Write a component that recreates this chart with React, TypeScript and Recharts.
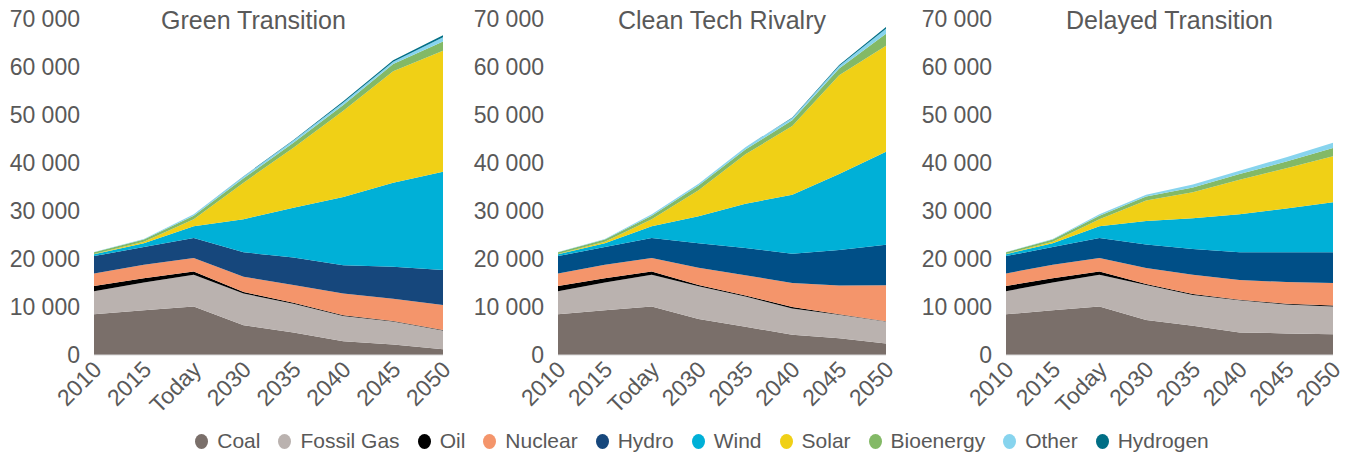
import React from 'react';
import { AreaChart, Area, XAxis, YAxis } from 'recharts';

const categories = ['2010', '2015', 'Today', '2030', '2035', '2040', '2045', '2050'];
const yTicks = [0, 10000, 20000, 30000, 40000, 50000, 60000, 70000];

const seriesNames = ['Coal', 'Fossil Gas', 'Oil', 'Nuclear', 'Hydro', 'Wind', 'Solar', 'Bioenergy', 'Other', 'Hydrogen'];
const seriesColors = ['#7a6f6a', '#bab2af', '#000000', '#f4956b', '#16477c', '#00b0d7', '#f0d016', '#83b966', '#87d4ee', '#006e85'];

// values in TWh, order follows seriesNames
const greenTransition = [
  [8500, 9300, 10100, 6200, 4700, 2850, 2200, 1200],
  [4800, 5800, 6600, 6600, 6000, 5250, 4800, 3900],
  [1100, 900, 700, 300, 200, 200, 100, 100],
  [2600, 2800, 2800, 3200, 3700, 4500, 4600, 5200],
  [3600, 3700, 4200, 5100, 5700, 5900, 6700, 7300],
  [400, 800, 2400, 6900, 10400, 14200, 17500, 20500],
  [50, 300, 1500, 7600, 12500, 18000, 23200, 25200],
  [350, 450, 700, 900, 1000, 1200, 1500, 1900],
  [50, 100, 300, 400, 500, 500, 500, 900],
  [0, 0, 0, 50, 100, 250, 300, 400],
];

const cleanTechRivalry = [
  [8500, 9300, 10100, 7500, 5900, 4200, 3500, 2400],
  [4800, 5800, 6600, 6800, 6300, 5500, 4900, 4600],
  [1100, 900, 700, 300, 200, 300, 100, 50],
  [2600, 2800, 2800, 3600, 4200, 5000, 6000, 7500],
  [3600, 3700, 4200, 5100, 5700, 6100, 7400, 8400],
  [400, 800, 2400, 5600, 9200, 12300, 15800, 19400],
  [50, 300, 1500, 5400, 10300, 14300, 20600, 22100],
  [350, 450, 700, 1000, 1000, 1200, 1400, 2500],
  [50, 100, 300, 400, 500, 500, 500, 1000],
  [0, 0, 0, 0, 0, 100, 200, 400],
];

const delayedTransition = [
  [8500, 9300, 10100, 7300, 6100, 4700, 4500, 4300],
  [4800, 5800, 6600, 7300, 6400, 6700, 6000, 5800],
  [1100, 900, 700, 200, 200, 100, 200, 200],
  [2600, 2800, 2800, 3300, 4000, 4100, 4500, 4700],
  [3600, 3700, 4200, 4900, 5400, 5800, 6200, 6400],
  [400, 800, 2400, 4900, 6400, 7900, 9100, 10400],
  [50, 300, 1500, 4300, 5400, 7200, 8400, 9600],
  [350, 450, 700, 800, 1000, 1200, 1400, 1700],
  [50, 100, 300, 400, 600, 700, 900, 1100],
  [0, 0, 0, 0, 0, 0, 0, 0],
];

const FONT = '"Liberation Sans", Arial, sans-serif';
const TEXT = '#595959';

const toRows = (values: number[][]) =>
  categories.map((c, i) => {
    const row: Record<string, string | number> = { year: c };
    seriesNames.forEach((s, k) => {
      row[s] = values[k][i];
    });
    return row;
  });

const fmt = (v: number) => String(v).replace(/\B(?=(\d{3})+(?!\d))/g, ' ');

const XTick = (props: any) => {
  const { x, y, payload } = props;
  const ax = x + 9;
  const ay = y + 14;
  return (
    <text x={ax} y={ay} transform={`rotate(-45, ${ax}, ${ay})`} textAnchor="end" fill={TEXT} fontSize={23} fontFamily={FONT}>
      {payload.value}
    </text>
  );
};

const AXIS_W = 100;

interface PanelProps {
  title: string;
  values: number[][];
  plotLeft: number;
  plotWidth: number;
  titleShift: number;
  hydroColor: string;
}

const Panel: React.FC<PanelProps> = ({ title, values, plotLeft, plotWidth, titleShift, hydroColor }) => {
  const data = toRows(values);
  const colors = seriesColors.map((c, k) => (seriesNames[k] === 'Hydro' ? hydroColor : c));
  return (
    <div style={{ position: 'absolute', left: plotLeft - AXIS_W, top: 0 }}>
      <AreaChart width={AXIS_W + plotWidth + 25} height={420} data={data} margin={{ top: 19, right: 25, left: 0, bottom: 15 }}>
        <XAxis
          dataKey="year"
          height={50}
          interval={0}
          tickLine={false}
          tickSize={0}
          tick={<XTick />}
          axisLine={{ stroke: '#d9d9d9' }}
        />
        <YAxis
          width={AXIS_W}
          domain={[0, 70000]}
          ticks={yTicks}
          tickFormatter={fmt}
          axisLine={false}
          tickLine={false}
          tickSize={0}
          tickMargin={14}
          tick={{ fill: TEXT, fontSize: 23, fontFamily: FONT }}
        />
        {seriesNames.map((s, k) => (
          <Area
            key={s}
            type="linear"
            dataKey={s}
            stackId="1"
            stroke="none"
            fill={colors[k]}
            fillOpacity={1}
            isAnimationActive={false}
          />
        ))}
        <text x={AXIS_W + plotWidth / 2 + titleShift} y={29} textAnchor="middle" fill={TEXT} fontSize={25} fontFamily={FONT}>
          {title}
        </text>
      </AreaChart>
    </div>
  );
};

const Legend: React.FC = () => (
  <div
    style={{
      position: 'absolute',
      top: 429,
      left: 0,
      width: 1422,
      display: 'flex',
      justifyContent: 'center',
      fontFamily: FONT,
      fontSize: 21,
      color: TEXT,
    }}
  >
    {seriesNames.map((s, k) => (
      <span key={s} style={{ display: 'flex', alignItems: 'center', marginRight: 18 }}>
        <span
          style={{
            display: 'inline-block',
            width: 13,
            height: 15,
            borderRadius: '50%',
            background: seriesColors[k],
            marginRight: 9,
          }}
        />
        {s}
      </span>
    ))}
  </div>
);

export default function App() {
  return (
    <div style={{ position: 'absolute', left: 0, top: 0, width: 1355, height: 456, background: '#fff', overflow: 'hidden' }}>
      <Panel title="Green Transition" values={greenTransition} plotLeft={94} plotWidth={349} titleShift={-15} hydroColor="#16477c" />
      <Panel title="Clean Tech Rivalry" values={cleanTechRivalry} plotLeft={558} plotWidth={328} titleShift={0} hydroColor="#004f87" />
      <Panel title="Delayed Transition" values={delayedTransition} plotLeft={1006} plotWidth={327} titleShift={0} hydroColor="#004f87" />
      <Legend />
    </div>
  );
}
